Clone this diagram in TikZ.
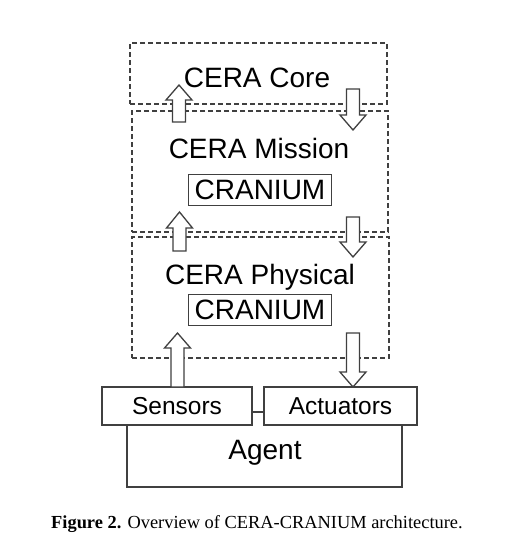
\documentclass[tikz,border=0pt]{standalone}
\usepackage{fontspec}
\setmainfont{Liberation Sans}
\newfontfamily\capfont{Liberation Serif}
\tikzset{
  dbox/.style={draw=black!75, dash pattern=on 5pt off 3pt, line width=1.3pt, inner sep=0pt},
  sbox/.style={draw=black!75, line width=1.3pt, inner sep=0pt},
  blk/.style={draw=black!75, fill=white, line width=1.3pt, line join=miter},
  big/.style={font=\fontsize{28}{30}\selectfont, inner sep=0pt},
  mid/.style={font=\fontsize{24.5}{26}\selectfont, inner sep=0pt},
  cranbox/.style={sbox, minimum width=143pt, minimum height=31pt, font=\fontsize{28}{30}\selectfont}
}
\newcommand\blkup[4]{% x, ybottom, ybase, ytip
  \draw[blk] ({#1-6.5},#2) -- ({#1-6.5},#3) -- ({#1-13},#3) -- (#1,#4) -- ({#1+13},#3) -- ({#1+6.5},#3) -- ({#1+6.5},#2) -- cycle;}
\begin{document}
\begin{tikzpicture}[x=1pt,y=-1pt]
\useasboundingbox[fill=white] (0,0) rectangle (513,560);
% dashed layer boxes
\node[dbox, minimum width=257pt, minimum height=61pt] (core) at (258.5,73.5) {};
\node[dbox, minimum width=256pt, minimum height=121pt] (mission) at (260,171.5) {};
\node[dbox, minimum width=257pt, minimum height=121pt] (physical) at (260.5,297.5) {};
% titles
\node[big, anchor=base] (coret) at (257,87.5) {CERA Core};
\node[big, anchor=base] (missiont) at (259,158) {CERA Mission};
\node[big, anchor=base] (physt) at (260,284.5) {CERA Physical};
% CRANIUM boxes
\node[cranbox] (cran1) at (260,190) {CRANIUM};
\node[cranbox] (cran2) at (260,310) {CRANIUM};
% sensors, actuators, agent
\node[sbox, mid, minimum width=150pt, minimum height=38pt] (sensors) at (177,406) {Sensors};
\node[sbox, mid, minimum width=153pt, minimum height=38pt] (actuators) at (340.5,406) {Actuators};
\node[big, anchor=base] (agent) at (265,459) {Agent};
\coordinate (agl) at (127,425);
\coordinate (agr) at (402,425);
\draw[sbox] (agl) -- (127,487) -- (402,487) -- (agr);
\draw[sbox] (sensors.east |- 0,412) -- (actuators.west |- 0,412);
% block arrows
\blkup{179}{122}{100}{85}
\blkup{353}{89}{115}{130}
\blkup{179.5}{251}{228}{212}
\blkup{353}{217}{242}{257}
\blkup{177.5}{387}{348}{333}
\blkup{353}{333}{372}{387}
% caption
\node[anchor=base west, inner sep=0pt, font=\capfont\fontsize{18.4}{20}\selectfont] (cap) at (51,528) {\textbf{Figure 2.} Overview of CERA-CRANIUM architecture.};
\end{tikzpicture}
\end{document}
